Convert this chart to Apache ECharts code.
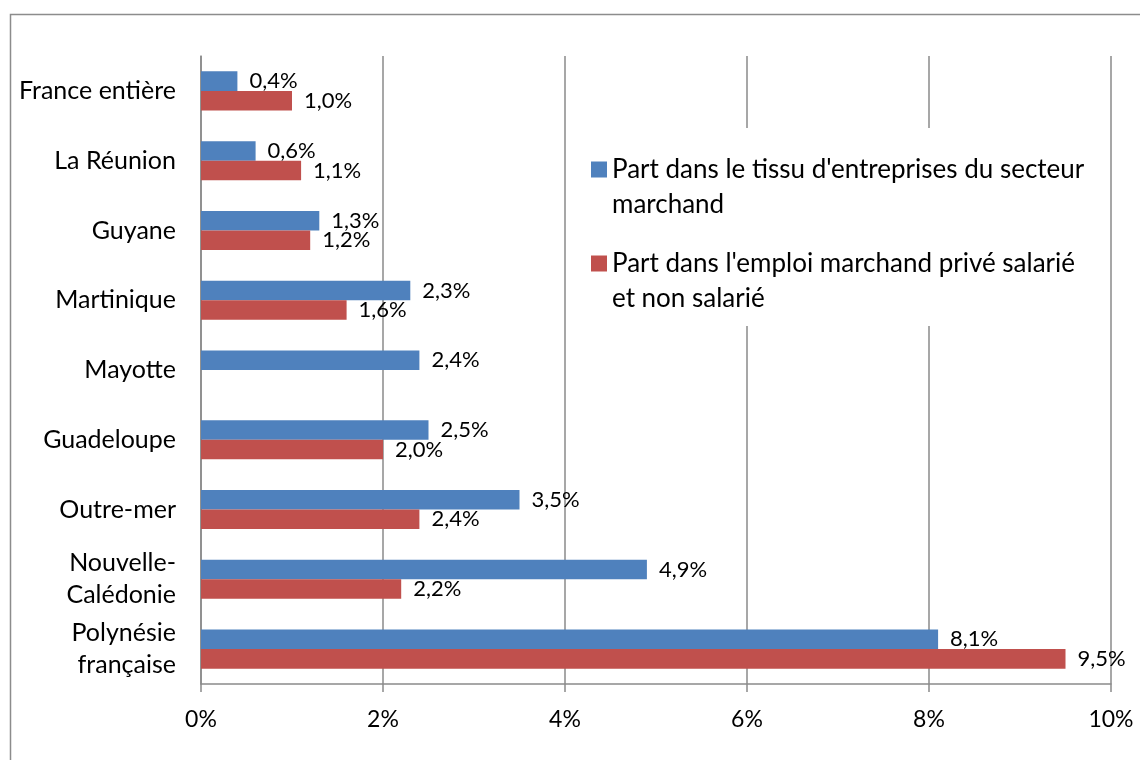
<!DOCTYPE html>
<html>
<head>
<meta charset="utf-8">
<script src="https://cdn.jsdelivr.net/npm/echarts@6/dist/echarts.min.js"></script>
<style>
    html,body{margin:0;padding:0;background:#fff;}
    #chart{width:1140px;height:760px;}
</style>
</head>
<body>
<div id="chart"></div>
<script>
    const categories = ['France entière', 'La Réunion', 'Guyane', 'Martinique', 'Mayotte',
        'Guadeloupe', 'Outre-mer', 'Nouvelle-\nCalédonie', 'Polynésie\nfrançaise'];
    const partEntreprises = [0.4, 0.6, 1.3, 2.3, 2.4, 2.5, 3.5, 4.9, 8.1];
    const partEmploi = [1.0, 1.1, 1.2, 1.6, null, 2.0, 2.4, 2.2, 9.5];
    const seriesNames = ["Part dans le tissu d'entreprises du secteur marchand",
        "Part dans l'emploi marchand privé salarié et non salarié"];
    const legendLines = {};
    legendLines[seriesNames[0]] = "Part dans le tissu d'entreprises du secteur\nmarchand";
    legendLines[seriesNames[1]] = "Part dans l'emploi marchand privé salarié\net non salarié";

    const font = 'Lato, "Open Sans", sans-serif';
    const gridColor = '#8a8a8a';
    const fmt = v => v.toFixed(1).replace('.', ',') + '%';

    const myChart = echarts.init(document.getElementById('chart'));
    let option = {
        animation: false,
        textStyle: {fontFamily: font},
        grid: {left: 201, right: 29, top: 56, bottom: 76},
        graphic: [{
            type: 'rect',
            left: 8, top: 12,
            shape: {width: 1200, height: 800},
            style: {fill: 'none', stroke: '#8c8c8c', lineWidth: 1.5},
            z: -10
        }],
        legend: {
            orient: 'vertical',
            left: 580, top: 128,
            padding: [-11, 14, 10, 11],
            backgroundColor: '#fff',
            itemWidth: 16, itemHeight: 16,
            itemGap: -11,
            icon: 'rect',
            data: seriesNames,
            // blank first line keeps the marker level with the first text line
            formatter: name => '\n' + legendLines[name],
            textStyle: {fontSize: 26, color: '#000', lineHeight: 35, fontFamily: font},
            z: 5
        },
        xAxis: {
            type: 'value',
            min: 0, max: 10, interval: 2,
            axisLine: {show: true, lineStyle: {color: gridColor, width: 1.5}},
            axisTick: {show: true, length: 8, lineStyle: {color: gridColor, width: 1.5}},
            splitLine: {lineStyle: {color: gridColor, width: 1.5}},
            axisLabel: {formatter: '{value}%', fontSize: 23, color: '#000', margin: 24}
        },
        yAxis: {
            type: 'category',
            inverse: true,
            data: categories,
            axisLine: {lineStyle: {color: gridColor, width: 1.5}},
            axisTick: {length: 8, lineStyle: {color: gridColor, width: 1.5}},
            axisLabel: {fontSize: 25, color: '#000', margin: 25, lineHeight: 32}
        },
        series: [
            {
                name: seriesNames[0],
                type: 'bar',
                data: partEntreprises,
                barGap: '0%',
                barCategoryGap: '44%',
                itemStyle: {color: '#4f81bd'},
                label: {show: true, position: 'right', distance: 12, fontSize: 22, color: '#000', formatter: p => fmt(p.value)}
            },
            {
                name: seriesNames[1],
                type: 'bar',
                data: partEmploi,
                barGap: '0%',
                barCategoryGap: '44%',
                itemStyle: {color: '#c0504d'},
                label: {show: true, position: 'right', distance: 12, fontSize: 22, color: '#000', formatter: p => fmt(p.value)}
            }
        ]
    };
    myChart.setOption(option);
</script>
</body>
</html>
